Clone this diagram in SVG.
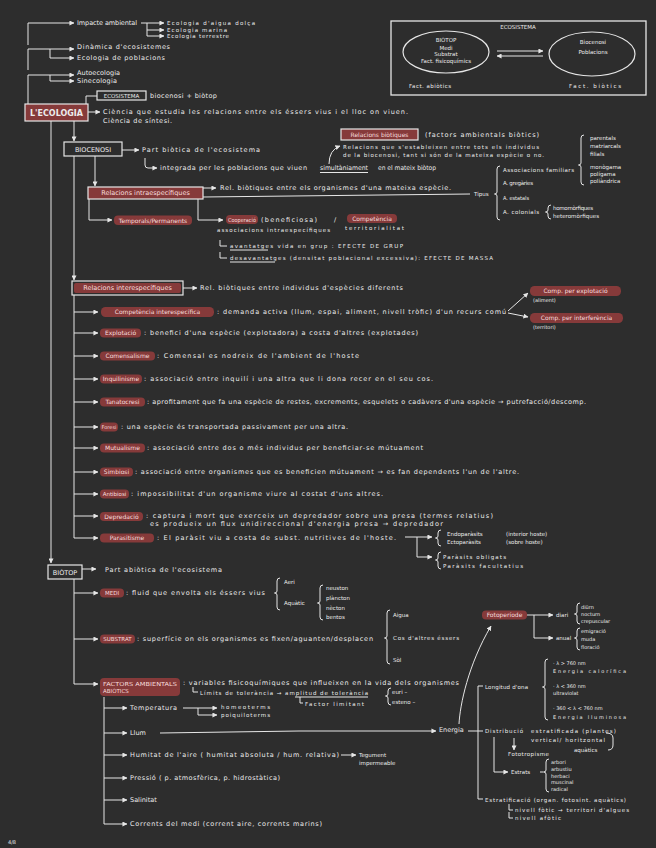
<svg xmlns="http://www.w3.org/2000/svg" width="656" height="848" viewBox="0 0 656 848">
<defs>
<marker id="a" viewBox="0 0 6 6" refX="5.5" refY="3" markerWidth="5" markerHeight="5" orient="auto" markerUnits="userSpaceOnUse"><path d="M0,0 L6,3 L0,6 Z" fill="#e6e6e6"/></marker>
<style>
.t{font-family:"DejaVu Sans","Liberation Sans",Arial,sans-serif;font-size:6.5px;fill:#ececec}
.s{font-size:5.5px}
.xs{font-size:5px}
.p{font-size:6px}
.ht{fill:#f7dede}
.c{text-anchor:middle}
.hl{fill:#863a3a}
.ln{fill:none;stroke:#e6e6e6;stroke-width:1}
.ar{fill:none;stroke:#e6e6e6;stroke-width:1;marker-end:url(#a)}
.bx{fill:#2d2d2d;stroke:#e6e6e6;stroke-width:1.2}
.rb{fill:#863a3a;stroke:#e6e6e6;stroke-width:1.2}
</style>
</defs>
<rect width="656" height="848" fill="#2d2d2d"/>

<g id="connectors">
<path class="ar" d="M28,45 V23 H74"/>
<path class="ln" d="M141,23 H147 V36"/>
<path class="ar" d="M147,23 H164"/><path class="ar" d="M147,30 H164"/><path class="ar" d="M147,36 H164"/>
<path class="ar" d="M28,70 V49 H74"/><path class="ar" d="M50,49 V58 H74"/>
<path class="ar" d="M28,104 V75 H74"/><path class="ar" d="M50,75 V81 H74"/>
<path class="ln" d="M86,104 V96 H97"/>
<path class="ar" d="M88,112 H100"/>
<path class="ar" d="M51,121 V563"/>
<path class="ar" d="M74,121 V141"/>
<path class="ar" d="M122,150 H139"/>
<path class="ar" d="M145,158 V165 Q145,168 148,168 H157"/>
<path class="ar" d="M95,156 V186"/>
<path class="ar" d="M74,156 V280"/>
<path class="ar" d="M203,188 H216"/>
<path class="ln" d="M203,197 L470,194"/>
<path class="ar" d="M89,199 V220 H112"/>
<path class="ar" d="M198,199 V220 H223"/>
<path class="ln" d="M220,240 V246 H227"/>
<path class="ln" d="M220,252 V258 H227"/>
<path class="ar" d="M329,164 Q329,150 340,146"/>
<path class="ar" d="M183,288 H197"/>
<path class="ln" d="M74,295 V538"/>
<path class="ar" d="M74,312 H98"/><path class="ar" d="M74,333 H98"/><path class="ar" d="M74,356 H98"/><path class="ar" d="M74,379 H98"/><path class="ar" d="M74,402 H98"/><path class="ar" d="M74,427 H98"/><path class="ar" d="M74,448 H98"/><path class="ar" d="M74,472 H98"/><path class="ar" d="M74,494 H98"/><path class="ar" d="M74,516 H98"/><path class="ar" d="M74,538 H98"/>
<path class="ar" d="M508,311 L528,293"/><path class="ar" d="M508,313 L528,317"/>
<path class="ar" d="M405,537 H432"/><path class="ar" d="M417,537 V557 H432"/>
<path class="ar" d="M82,569 H96"/>
<path class="ln" d="M74,579 V684"/>
<path class="ar" d="M74,593 H98"/><path class="ar" d="M74,639 H98"/><path class="ar" d="M74,684 H98"/>
<path class="ln" d="M104,697 V824"/>
<path class="ar" d="M104,708 H127"/><path class="ar" d="M104,733 H127"/><path class="ar" d="M104,755 H127"/><path class="ar" d="M104,778 H127"/><path class="ar" d="M104,800 H127"/><path class="ar" d="M104,824 H127"/>
<path class="ar" d="M183,708 H217"/><path class="ar" d="M198,708 V715 H217"/>
<path class="ar" d="M160,733 Q300,730 436,731"/>
<path class="ar" d="M341,755 H356"/>
<path class="ln" d="M193,687 V692 H198"/>
<path class="ln" d="M300,697 V703 H303"/>
<path class="ln" d="M468,731 H483"/>
<path class="ln" d="M478,686 V799 M478,686 H483 M478,799 H483"/>
<path class="ar" d="M459,724 C460,705 468,665 491,626"/>
<path class="ar" d="M514,738 V750"/>
<path class="ar" d="M494,737 V772 H508"/>
<path class="ln" d="M509,804 V810 H513 M509,812 V818 H513"/>
<path class="ln" d="M606,733 Q613,733 613,738 V745 Q613,750 608,750"/>
<path class="ar" d="M527,615 H553"/><path class="ar" d="M534,615 V638 H553"/>
<path class="ar" d="M497,51 H543"/><path class="ar" d="M543,56 H497"/>
<path class="ln" d="M500,166 Q497,166 497,169 V192 Q497,194 494.5,194 Q497,194 497,196 V217 Q497,220 500,220"/>
<path class="ln" d="M551,205 Q548,205 548,208 V210 Q548,212 545.5,212 Q548,212 548,214 V216 Q548,219 551,219"/>
<path class="ln" d="M584,135 Q581,135 581,138 V163 Q581,165 578.5,165 Q581,165 581,167 V182 Q581,185 584,185"/>
<path class="ln" d="M280,578 Q277,578 277,581 V591 Q277,593 274.5,593 Q277,593 277,595 V607 Q277,610 280,610"/>
<path class="ln" d="M323,585 Q320,585 320,588 V601 Q320,603 317.5,603 Q320,603 320,605 V617 Q320,620 323,620"/>
<path class="ln" d="M390,610 Q387,610 387,613 V636 Q387,638 384.5,638 Q387,638 387,640 V661 Q387,664 390,664"/>
<path class="ln" d="M391,688 Q388,688 388,691 V694 Q388,696 385.5,696 Q388,696 388,698 V702 Q388,705 391,705"/>
<path class="ln" d="M441,530 Q438,530 438,533 V536 Q438,538 435.5,538 Q438,538 438,540 V543 Q438,546 441,546"/>
<path class="ln" d="M441,552 Q438,552 438,555 V558 Q438,560 435.5,560 Q438,560 438,562 V566 Q438,569 441,569"/>
<path class="ln" d="M548,659 Q545,659 545,662 V685 Q545,687 542.5,687 Q545,687 545,689 V717 Q545,720 548,720"/>
<path class="ln" d="M549,759 Q546,759 546,762 V770 Q546,772 543.5,772 Q546,772 546,774 V789 Q546,792 549,792"/>
<path class="ln" d="M580,603 Q577,603 577,606 V612 Q577,614 574.5,614 Q577,614 577,616 V621 Q577,624 580,624"/>
<path class="ln" d="M580,628 Q577,628 577,631 V636 Q577,638 574.5,638 Q577,638 577,640 V647 Q577,650 580,650"/>
<path class="ln" d="M540,772 H543"/>
</g>

<g id="n-top">
<text class="t" x="77" y="25.3" textLength="60">Impacte ambiental</text>
<text class="t s" x="167" y="25" textLength="88">Ecologia d'aigua dolça</text>
<text class="t s" x="167" y="32" textLength="60">Ecologia marina</text>
<text class="t s" x="167" y="38" textLength="62">Ecologia terrestre</text>
<text class="t" x="77" y="49.3" textLength="93">Dinàmica d'ecosistemes</text>
<text class="t" x="77" y="60.3" textLength="88">Ecologia de poblacions</text>
<text class="t" x="77" y="75.3" textLength="43">Autoecologia</text>
<text class="t" x="77" y="83.3" textLength="40">Sinecologia</text>
</g>
<g id="n-ecosistema-def">
<rect class="bx" x="97" y="91" width="49" height="9"/>
<text class="t s c" x="121.5" y="97.8">ECOSISTEMA</text>
<text class="t" x="150" y="98.3" textLength="67">biocenosi + biòtop</text>
</g>
<g id="n-ecologia">
<rect class="rb" x="25" y="104" width="63" height="17" stroke-width="1.5"/>
<text class="t" x="30" y="115.8" style="font-size:8.5px;font-weight:bold" fill="#f7e6e6" textLength="53" lengthAdjust="spacingAndGlyphs">L'ECOLOGIA</text>
<text class="t" x="103" y="114.3" textLength="305">Ciència que estudia les relacions entre els éssers vius i el lloc on viuen.</text>
<text class="t" x="103" y="123.3" textLength="69">Ciència de síntesi.</text>
</g>

<g id="n-ecosistema-box">
<rect x="391" y="21" width="255" height="74" fill="none" stroke="#e6e6e6" stroke-width="1.3"/>
<text class="t s c" x="518" y="29">ECOSISTEMA</text>
<ellipse cx="446" cy="52" rx="43" ry="21" fill="none" stroke="#e6e6e6" stroke-width="1.2"/>
<text class="t s c" x="446" y="42">BIÒTOP</text>
<text class="t s c" x="446" y="49.5">Medi</text>
<text class="t s c" x="446" y="56">Substrat</text>
<text class="t s c" x="446" y="63">Fact. fisicoquímics</text>
<ellipse cx="592" cy="54" rx="43" ry="22" fill="none" stroke="#e6e6e6" stroke-width="1.2"/>
<text class="t s c" x="593" y="43.5">Biocenosi</text>
<text class="t s c" x="593" y="54">Poblacions</text>
<text class="t s" x="409" y="88" textLength="42">Fact. abiòtics</text>
<text class="t s" x="569" y="88" textLength="52">Fact. biòtics</text>
</g>

<g id="n-relbiotiques">
<rect class="rb" x="341" y="129" width="77" height="11"/>
<text class="t p c ht" x="379.5" y="136.8">Relacions biòtiques</text>
<text class="t" x="425" y="137.3" textLength="114">(factors ambientals biòtics)</text>
<text class="t s" x="343" y="149" textLength="196">Relacions que s'estableixen entre tots els individus</text>
<text class="t s" x="343" y="157" textLength="201">de la biocenosi, tant si són de la mateixa espècie o no.</text>
</g>

<g id="n-biocenosi">
<rect class="bx" x="64" y="142" width="58" height="14"/>
<text class="t c" x="93" y="151.5">BIOCENOSI</text>
<text class="t" x="142" y="152.3" textLength="118">Part biòtica de l'ecosistema</text>
<text class="t" x="160" y="170.3" textLength="147">integrada per les poblacions que viuen</text>
<text class="t" x="320" y="170.3" textLength="48" lengthAdjust="spacingAndGlyphs">simultàniament</text>
<path class="ln" d="M320,172.5 H368"/>
<text class="t" x="378" y="170.3" textLength="58" lengthAdjust="spacingAndGlyphs">en el mateix biòtop</text>
</g>

<g id="n-intra">
<rect class="rb" x="88" y="187" width="115" height="12"/>
<text class="t c ht" x="145.5" y="195.3">Relacions intraespecífiques</text>
<text class="t" x="220" y="190.3" textLength="231">Rel. biòtiques entre els organismes d'una mateixa espècie.</text>
<text class="t s" x="474" y="196">Tipus</text>
<text class="t s" x="503" y="172" textLength="71">Associacions familiars</text>
<text class="t s" x="503" y="185" textLength="30">A. gregàries</text>
<text class="t s" x="503" y="200" textLength="26" lengthAdjust="spacingAndGlyphs">A. estatals</text>
<text class="t s" x="503" y="213.5" textLength="36">A. colonials</text>
<text class="t s" x="553" y="210" textLength="40">homomòrfiques</text>
<text class="t s" x="553" y="218" textLength="46">heteromòrfiques</text>
<text class="t s" x="590" y="140">parentals</text>
<text class="t s" x="590" y="148">matriarcals</text>
<text class="t s" x="590" y="156">filials</text>
<text class="t s" x="590" y="169">monògama</text>
<text class="t s" x="590" y="176">polígama</text>
<text class="t s" x="590" y="183">poliàndrica</text>
</g>

<g id="n-temporals">
<rect class="hl" x="114" y="215.5" width="78" height="9.5" rx="4"/>
<text class="t p c ht" x="153" y="222.5">Temporals/Permanents</text>
</g>
<g id="n-cooperacio">
<rect class="hl" x="226" y="215" width="32" height="9" rx="4"/>
<text class="t s ht" x="228" y="221.5" textLength="28" lengthAdjust="spacingAndGlyphs">Cooperació</text>
<text class="t" x="261" y="222.3" textLength="56">(beneficiosa)</text>
<text class="t" x="334" y="222.3">/</text>
<rect class="hl" x="347" y="214" width="50" height="9" rx="4"/>
<text class="t p c ht" x="372" y="220.8">Competència</text>
<text class="t s" x="217" y="232" textLength="113">associacions intraespecífiques</text>
<text class="t s" x="345" y="230" textLength="59">territorialitat</text>
<text class="t s" x="230" y="248" textLength="173">avantatges  vida en grup : EFECTE DE GRUP</text>
<path class="ln" d="M230,250 H268"/>
<text class="t s" x="230" y="260" textLength="263">desavantatges  (densitat poblacional excessiva): EFECTE DE MASSA</text>
<path class="ln" d="M230,262 H275"/>
</g>

<g id="n-inter">
<rect class="bx" x="72" y="281" width="111" height="14"/>
<rect class="hl" x="74" y="283" width="107" height="10" rx="2"/>
<text class="t c ht" x="127.5" y="290.3">Relacions interespecífiques</text>
<text class="t" x="200" y="290.3" textLength="203">Rel. biòtiques entre individus d'espècies diferents</text>
</g>

<g id="n-competencia">
<rect class="hl" x="101" y="307" width="113" height="10" rx="4.5"/>
<text class="t p c ht" x="157.5" y="314.2">Competència interespecífica</text>
<text class="t" x="217" y="314.3" textLength="289">: demanda activa (llum, espai, aliment, nivell tròfic) d'un recurs comú</text>
<rect class="hl" x="530" y="286" width="91" height="10" rx="4.5"/>
<text class="t p c ht" x="575.5" y="293.2">Comp. per explotació</text>
<text class="t xs" x="533" y="302">(aliment)</text>
<rect class="hl" x="530" y="313" width="93" height="10" rx="4.5"/>
<text class="t p c ht" x="576.5" y="320.2">Comp. per interferència</text>
<text class="t xs" x="533" y="329">(territori)</text>
</g>
<g id="n-explotacio">
<rect class="hl" x="100" y="328.5" width="41" height="9" rx="4"/>
<text class="t p c ht" x="120.5" y="335.2">Explotació</text>
<text class="t" x="144" y="335.3" textLength="274">: benefici d'una espècie (explotadora) a costa d'altres (explotades)</text>
</g>
<g id="n-comensalisme">
<rect class="hl" x="100" y="351.5" width="55" height="9" rx="4"/>
<text class="t p c ht" x="127.5" y="358.2">Comensalisme</text>
<text class="t" x="157" y="358.3" textLength="202">: Comensal es nodreix de l'ambient de l'hoste</text>
</g>
<g id="n-inquilinisme">
<rect class="hl" x="100" y="374.5" width="42" height="9" rx="4"/>
<text class="t p c ht" x="121" y="381.2">Inquilinisme</text>
<text class="t" x="144" y="381.3" textLength="289">: associació entre inquilí i una altra que li dona recer en el seu cos.</text>
</g>
<g id="n-tanatocresi">
<rect class="hl" x="100" y="397.5" width="45" height="9" rx="4"/>
<text class="t p c ht" x="122.5" y="404.2">Tanatocresi</text>
<text class="t" x="147" y="404.3" textLength="439">: aprofitament que fa una espècie de restes, excrements, esquelets o cadàvers d'una espècie → putrefacció/descomp.</text>
</g>
<g id="n-foresi">
<rect class="hl" x="100" y="422.5" width="18" height="9" rx="4"/>
<text class="t xs c ht" x="109" y="428.8">Foresi</text>
<text class="t" x="121" y="429.3" textLength="227">: una espècie és transportada passivament per una altra.</text>
</g>
<g id="n-mutualisme">
<rect class="hl" x="100" y="443.5" width="45" height="9" rx="4"/>
<text class="t p c ht" x="122.5" y="450.2">Mutualisme</text>
<text class="t" x="147" y="450.3" textLength="276">: associació entre dos o més individus per beneficiar-se mútuament</text>
</g>
<g id="n-simbiosi">
<rect class="hl" x="100" y="467.5" width="33" height="9" rx="4"/>
<text class="t p c ht" x="116.5" y="474.2">Simbiosi</text>
<text class="t" x="135" y="474.3" textLength="384">: associació entre organismes que es beneficien mútuament → es fan dependents l'un de l'altre.</text>
</g>
<g id="n-antibiosi">
<rect class="hl" x="100" y="489.5" width="29" height="9" rx="4"/>
<text class="t s c ht" x="114.5" y="496">Antibiosi</text>
<text class="t" x="131" y="496.3" textLength="252">: impossibilitat d'un organisme viure al costat d'uns altres.</text>
</g>
<g id="n-depredacio">
<rect class="hl" x="100" y="512" width="43" height="9" rx="4"/>
<text class="t p c ht" x="121.5" y="518.7">Depredació</text>
<text class="t" x="146" y="518.3" textLength="347">: captura i mort que exerceix un depredador sobre una presa  (termes relatius)</text>
<text class="t" x="150" y="526.3" textLength="293">es produeix un flux unidireccional d'energia  presa → depredador</text>
</g>
<g id="n-parasitisme">
<rect class="hl" x="100" y="533.5" width="54" height="9" rx="4"/>
<text class="t p c ht" x="127" y="540.2">Parasitisme</text>
<text class="t" x="157" y="540.3" textLength="239">: El paràsit viu a costa de subst. nutritives de l'hoste.</text>
<text class="t s" x="447" y="535.5">Endoparàsits</text>
<text class="t s" x="506" y="535.5">(interior hoste)</text>
<text class="t s" x="447" y="543.5">Ectoparàsits</text>
<text class="t s" x="506" y="543.5">(sobre hoste)</text>
<text class="t s" x="443" y="559" textLength="63">Paràsits obligats</text>
<text class="t s" x="443" y="568" textLength="80">Paràsits facultatius</text>
</g>

<g id="n-biotop">
<rect class="bx" x="48" y="565" width="34" height="14"/>
<text class="t c" x="65" y="574.5">BIÒTOP</text>
<text class="t" x="105" y="572.3" textLength="117">Part abiòtica de l'ecosistema</text>
</g>
<g id="n-medi">
<rect class="hl" x="100" y="588.5" width="24" height="9" rx="4"/>
<text class="t s c ht" x="112" y="595">MEDI</text>
<text class="t" x="126" y="595.3" textLength="139">: fluid que envolta els éssers vius</text>
<text class="t s" x="284" y="584">Aeri</text>
<text class="t s" x="284" y="605">Aquàtic</text>
<text class="t s" x="326" y="590">neuston</text>
<text class="t s" x="326" y="600">plàncton</text>
<text class="t s" x="326" y="610">nècton</text>
<text class="t s" x="326" y="619">bentos</text>
</g>
<g id="n-substrat">
<rect class="hl" x="100" y="634.5" width="35" height="9" rx="4"/>
<text class="t s c ht" x="117.5" y="641">SUBSTRAT</text>
<text class="t" x="137" y="641.3" textLength="236">: superfície on els organismes es fixen/aguanten/desplacen</text>
<text class="t s" x="393" y="617">Aigua</text>
<text class="t s" x="393" y="640" textLength="66">Cos d'altres éssers</text>
<text class="t s" x="393" y="662">Sòl</text>
</g>
<g id="n-factors">
<rect class="hl" x="100" y="678" width="80" height="18" rx="4"/>
<text class="t s ht" x="103" y="685.5" textLength="74" lengthAdjust="spacingAndGlyphs">FACTORS AMBIENTALS</text>
<text class="t s ht" x="103" y="693">ABIÒTICS</text>
<text class="t" x="183" y="685.3" textLength="276">: variables fisicoquímiques que influeixen en la vida dels organismes</text>
<text class="t s" x="200" y="695" textLength="168">Límits de tolerància → amplitud de tolerància</text>
<path class="ln" d="M295,697 H368"/>
<text class="t s" x="392" y="694">euri –</text>
<text class="t s" x="392" y="704">esteno –</text>
<text class="t s" x="305" y="705.5" textLength="59">Factor limitant</text>
</g>
<g id="n-temperatura">
<text class="t" x="130" y="710.3" textLength="47">Temperatura</text>
<text class="t s" x="221" y="709" textLength="49">homeoterms</text>
<text class="t s" x="221" y="717" textLength="49">poiquiloterms</text>
</g>
<g id="n-llum"><text class="t" x="130" y="735.3">Llum</text></g>
<g id="n-humitat">
<text class="t" x="130" y="757.3" textLength="209">Humitat de l'aire ( humitat absoluta / hum. relativa)</text>
<text class="t s" x="359" y="757">Tegument</text>
<text class="t s" x="359" y="765">impermeable</text>
</g>
<g id="n-pressio"><text class="t" x="130" y="780.3" textLength="150">Pressió ( p. atmosfèrica, p. hidrostàtica)</text></g>
<g id="n-salinitat"><text class="t" x="130" y="802.3">Salinitat</text></g>
<g id="n-corrents"><text class="t" x="130" y="826.3" textLength="192">Corrents del medi (corrent aire, corrents marins)</text></g>

<g id="n-energia">
<text class="t" x="439" y="732.3">Energia</text>
<text class="t s" x="485" y="688.5" textLength="43">Longitud d'ona</text>
<text class="t xs" x="553" y="665">· λ &gt; 760 nm</text>
<text class="t xs" x="553" y="673" textLength="73">Energia calorífica</text>
<text class="t xs" x="553" y="688">· λ &lt; 360 nm</text>
<text class="t xs" x="553" y="695">ultraviolat</text>
<text class="t xs" x="553" y="710">· 360 &lt; λ &lt; 760 nm</text>
<text class="t xs" x="553" y="718.5" textLength="73">Energia lluminosa</text>
<text class="t s" x="485" y="733" textLength="38">Distribució</text>
<text class="t s" x="531" y="733" textLength="85">estratificada (plantes)</text>
<text class="t s" x="531" y="742" textLength="74">vertical/ horitzontal</text>
<text class="t s" x="574" y="752">aquàtics</text>
<text class="t s" x="508" y="756" textLength="41">Fototropisme</text>
<text class="t s" x="511" y="774">Estrats</text>
<text class="t xs" x="551" y="764">arbori</text>
<text class="t xs" x="551" y="770.5">arbustiu</text>
<text class="t xs" x="551" y="777.5">herbaci</text>
<text class="t xs" x="551" y="784">muscinal</text>
<text class="t xs" x="551" y="791">radical</text>
<text class="t s" x="485" y="802" textLength="141">Estratificació (organ. fotosint. aquàtics)</text>
<text class="t s" x="515" y="812" textLength="114">nivell fòtic → territori d'algues</text>
<text class="t s" x="515" y="820" textLength="46">nivell afòtic</text>
</g>
<g id="n-fotoperiode">
<rect class="hl" x="482" y="610.5" width="45" height="9" rx="4"/>
<text class="t p c ht" x="504.5" y="617.2">Fotoperíode</text>
<text class="t s" x="556" y="617">diari</text>
<text class="t s" x="556" y="640">anual</text>
<text class="t xs" x="581" y="609">diürn</text>
<text class="t xs" x="581" y="616">nocturn</text>
<text class="t xs" x="581" y="623">crepuscular</text>
<text class="t xs" x="581" y="633">emigració</text>
<text class="t xs" x="581" y="641">muda</text>
<text class="t xs" x="581" y="649">floració</text>
</g>
<text class="t xs" x="8" y="844">4/8</text>
</svg>
